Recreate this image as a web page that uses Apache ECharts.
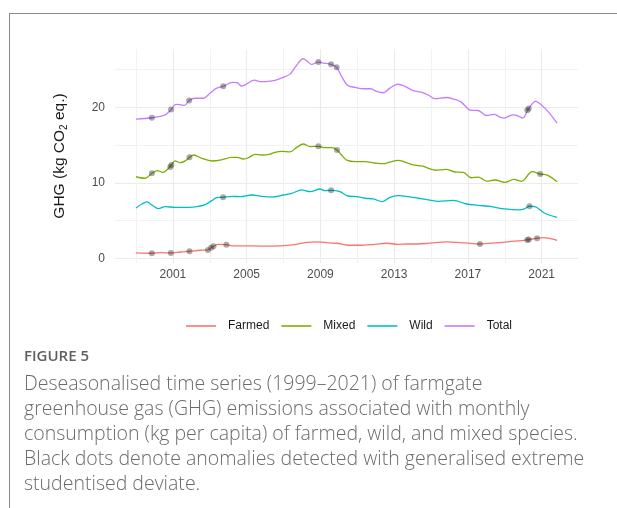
<!DOCTYPE html>
<html>
<head>
<meta charset="utf-8">
<script src="https://cdn.jsdelivr.net/npm/echarts@6/dist/echarts.min.js"></script>
<style>
html,body{margin:0;padding:0;background:#fff;}
#chart{width:617px;height:508px;}
</style>
</head>
<body>
<div id="chart"></div>
<script>
// ---- data (decimal year, kg CO2 eq.) ----
const seriesNames = ['Farmed', 'Mixed', 'Wild', 'Total'];
const seriesColors = ['#F8766D', '#7CAE00', '#00BFC4', '#C77CFF'];
const xMajorTicks = [2001, 2005, 2009, 2013, 2017, 2021];
const xMinorTicks = [1999, 2003, 2007, 2011, 2015, 2019];
const yMajorTicks = [0, 10, 20];
const yMinorTicks = [5, 15, 25];

const farmed = [
[1999.00,0.70],[1999.86,0.66],[2000.40,0.74],[2000.89,0.70],[2001.40,0.83],[2001.90,0.93],
[2002.48,1.06],[2002.90,1.10],[2003.07,1.40],[2003.20,1.59],[2003.47,1.85],[2003.90,1.80],
[2004.28,1.63],[2005.28,1.63],[2006.36,1.60],[2007.45,1.76],[2008.17,2.07],[2008.89,2.16],
[2009.43,2.03],[2009.88,1.99],[2010.51,1.72],[2011.15,1.72],[2011.96,1.85],[2012.59,1.99],
[2013.22,1.85],[2013.76,1.89],[2014.30,1.89],[2014.94,2.00],[2015.84,2.16],[2016.83,2.03],
[2017.65,1.89],[2018.64,2.07],[2019.72,2.29],[2020.26,2.46],[2020.75,2.65],[2021.08,2.73],
[2021.84,2.38]];

const mixed = [
[1999.00,10.80],[1999.50,10.60],[1999.86,11.26],[2000.17,11.60],[2000.46,11.39],[2000.67,11.70],
[2000.89,12.27],[2001.12,12.90],[2001.40,12.66],[2001.67,12.90],[2001.90,13.37],[2002.12,13.68],
[2002.57,13.24],[2003.11,12.89],[2003.56,13.00],[2004.20,13.37],[2004.47,13.37],[2004.82,13.15],
[2005.10,13.33],[2005.46,13.77],[2005.82,13.68],[2006.27,13.80],[2006.54,14.04],[2006.90,14.17],
[2007.35,14.10],[2007.72,14.70],[2008.07,15.14],[2008.44,14.80],[2008.89,14.83],[2009.25,14.65],
[2009.61,14.65],[2009.90,14.34],[2010.15,13.68],[2010.43,13.00],[2010.88,12.80],[2011.42,12.80],
[2011.96,12.62],[2012.41,12.53],[2012.77,12.75],[2013.22,12.97],[2013.58,12.75],[2014.04,12.37],
[2014.55,12.20],[2014.94,11.83],[2015.25,11.66],[2015.80,11.78],[2016.30,11.43],[2016.75,11.38],
[2017.18,10.67],[2017.56,10.76],[2018.01,10.23],[2018.46,10.37],[2019.00,10.05],[2019.50,10.45],
[2019.91,10.20],[2020.49,11.47],[2020.92,11.16],[2021.30,11.02],[2021.84,10.14]];

const wild = [
[1999.00,6.66],[1999.32,7.19],[1999.59,7.46],[1999.86,7.06],[2000.22,6.57],[2000.58,6.83],
[2001.12,6.75],[2001.85,6.75],[2002.30,6.83],[2002.75,7.10],[2003.11,7.63],[2003.38,8.03],
[2003.72,8.08],[2004.20,8.20],[2004.65,8.16],[2005.28,8.38],[2005.82,8.20],[2006.40,8.12],
[2006.99,8.38],[2007.45,8.60],[2007.99,9.05],[2008.44,8.83],[2008.98,9.18],[2009.25,8.96],
[2009.58,9.00],[2010.06,8.83],[2010.48,8.25],[2010.97,8.16],[2011.42,7.95],[2011.87,7.86],
[2012.35,7.50],[2012.77,8.08],[2013.22,8.29],[2013.76,8.16],[2014.30,7.95],[2014.94,7.70],
[2015.39,7.55],[2016.20,7.68],[2016.93,7.19],[2017.55,7.02],[2018.28,6.83],[2019.00,6.53],
[2019.81,6.40],[2020.08,6.57],[2020.34,6.89],[2020.63,6.83],[2021.17,5.96],[2021.84,5.43]];

const total = [
[1999.00,18.45],[1999.86,18.62],[2000.58,19.00],[2000.90,19.70],[2001.16,20.40],[2001.40,20.35],
[2001.63,20.26],[2001.88,20.90],[2002.20,21.20],[2002.66,21.20],[2003.02,21.90],[2003.38,22.55],
[2003.73,22.78],[2004.23,23.30],[2004.47,23.26],[2004.74,22.80],[2005.00,23.10],[2005.42,23.60],
[2005.73,23.40],[2006.18,23.44],[2006.54,23.57],[2006.99,23.97],[2007.35,24.40],[2007.66,25.40],
[2008.07,26.44],[2008.29,26.10],[2008.53,25.70],[2008.89,26.00],[2009.16,25.87],[2009.58,25.70],
[2009.88,25.30],[2010.15,24.10],[2010.48,22.90],[2010.88,22.65],[2011.33,22.46],[2011.74,22.46],
[2012.05,22.10],[2012.41,21.93],[2012.77,22.55],[2013.20,23.06],[2013.58,22.78],[2014.04,22.20],
[2014.55,21.95],[2014.94,21.50],[2015.20,21.15],[2015.84,21.30],[2016.21,21.10],[2016.60,20.75],
[2017.18,19.60],[2017.55,19.58],[2018.01,18.92],[2018.42,19.06],[2018.70,18.75],[2018.96,18.58],
[2019.43,19.01],[2019.73,18.85],[2019.98,18.58],[2020.27,19.75],[2020.68,20.80],[2021.00,20.28],
[2021.36,19.40],[2021.84,17.90]];

// anomalies (black dots)
const farmedDots = [[1999.86,0.66],[2000.89,0.70],[2001.90,0.93],[2002.90,1.10],[2003.07,1.40],
[2003.20,1.59],[2003.90,1.80],[2017.65,1.89],[2020.22,2.42],[2020.30,2.48],[2020.75,2.65]];
const mixedDots = [[1999.86,11.26],[2000.86,12.10],[2000.92,12.35],[2001.90,13.37],[2008.89,14.83],
[2009.90,14.34],[2020.92,11.16]];
const wildDots = [[2003.72,8.08],[2009.58,9.00],[2020.34,6.89]];
const totalDots = [[1999.86,18.62],[2000.90,19.70],[2001.88,20.90],[2003.73,22.78],[2008.89,26.00],
[2009.58,25.70],[2009.88,25.30],[2020.22,19.62],[2020.30,19.85]];

const captionTitle = 'FIGURE 5';
const captionLines = [
'Deseasonalised time series (1999\u20132021) of farmgate',
'greenhouse gas (GHG) emissions associated with monthly',
'consumption (kg per capita) of farmed, wild, and mixed species.',
'Black dots denote anomalies detected with generalised extreme',
'studentised deviate.'];

// ---- build ----
const lines = [farmed, mixed, wild, total];
const dots = [farmedDots, mixedDots, wildDots, totalDots];
const FONT = '"Liberation Sans", Arial, sans-serif';
const CAPFONT = '"Open Sans", "Noto Sans", sans-serif';
const X_MIN = 1997.86, X_MAX = 2022.97, Y_MIN = -0.63, Y_MAX = 27.73;

const series = [];
lines.forEach((d, i) => {
  series.push({
    name: seriesNames[i], type: 'line', data: d, smooth: 0.35,
    showSymbol: false, symbol: 'none', z: 2,
    lineStyle: {color: seriesColors[i], width: 1.3},
    itemStyle: {color: seriesColors[i]}
  });
});
dots.forEach((d, i) => {
  series.push({
    name: seriesNames[i] + ' anomalies', type: 'scatter', data: d, z: 3,
    symbolSize: 6, itemStyle: {color: 'rgba(40,40,40,0.5)'}
  });
});

const graphic = [
  {type: 'line', shape: {x1: 9.5, y1: 13, x2: 9.5, y2: 508}, style: {stroke: '#8a8a8a', lineWidth: 1}},
  {type: 'line', shape: {x1: 9, y1: 13.5, x2: 617, y2: 13.5}, style: {stroke: '#8a8a8a', lineWidth: 1}},
  {type: 'text', left: 24, top: 349, style: {text: captionTitle, font: '600 15px ' + CAPFONT, fill: '#5f5f5f'}}
];
captionLines.forEach((t, i) => {
  graphic.push({type: 'text', left: 24, top: 374 + i * 25,
    style: {text: t, font: '300 19.5px ' + CAPFONT, fill: '#6b6b6b'}});
});

const chart = echarts.init(document.getElementById('chart'), null, {renderer: 'canvas'});
chart.setOption({
  animation: false,
  backgroundColor: '#fff',
  grid: {left: 115, right: 39, top: 49, bottom: 245, containLabel: false},
  xAxis: [{
    type: 'value', min: X_MIN, max: X_MAX,
    axisLine: {show: false},
    axisTick: {show: false, customValues: xMajorTicks},
    axisLabel: {color: '#4D4D4D', fontSize: 12, fontFamily: FONT, margin: 6, customValues: xMajorTicks,
      formatter: v => String(Math.round(v))},
    splitLine: {show: true, lineStyle: {color: '#EBEBEB', width: 1.1}}
  }, {
    type: 'value', min: X_MIN, max: X_MAX, position: 'bottom',
    axisLine: {show: false},
    axisTick: {show: false, customValues: xMinorTicks},
    axisLabel: {show: false, customValues: xMinorTicks},
    splitLine: {show: true, lineStyle: {color: '#F2F2F2', width: 1}}
  }],
  yAxis: [{
    type: 'value', min: Y_MIN, max: Y_MAX,
    axisLine: {show: false},
    axisTick: {show: false, customValues: yMajorTicks},
    axisLabel: {color: '#4D4D4D', fontSize: 12, fontFamily: FONT, margin: 10, customValues: yMajorTicks,
      formatter: v => String(Math.round(v))},
    splitLine: {show: true, lineStyle: {color: '#EBEBEB', width: 1.1}},
    name: '{a|GHG (kg CO}{s|2}{a| eq.)}',
    nameLocation: 'middle', nameGap: 46,
    nameTextStyle: {
      rich: {
        a: {fontSize: 15.5, fontFamily: FONT, color: '#1a1a1a', lineHeight: 18},
        s: {fontSize: 10, fontFamily: FONT, color: '#1a1a1a', lineHeight: 10, verticalAlign: 'bottom'}
      }
    }
  }, {
    type: 'value', min: Y_MIN, max: Y_MAX, position: 'left',
    axisLine: {show: false},
    axisTick: {show: false, customValues: yMinorTicks},
    axisLabel: {show: false, customValues: yMinorTicks},
    splitLine: {show: true, lineStyle: {color: '#F2F2F2', width: 1}}
  }],
  legend: {
    data: seriesNames, left: 181, top: 315, orient: 'horizontal',
    icon: 'rect', itemWidth: 30, itemHeight: 2, itemGap: 12,
    itemStyle: {opacity: 0.8},
    textStyle: {color: '#1a1a1a', fontSize: 12, fontFamily: FONT, padding: [0, 0, 0, 7]}
  },
  graphic: graphic,
  series: series
});
</script>
</body>
</html>
